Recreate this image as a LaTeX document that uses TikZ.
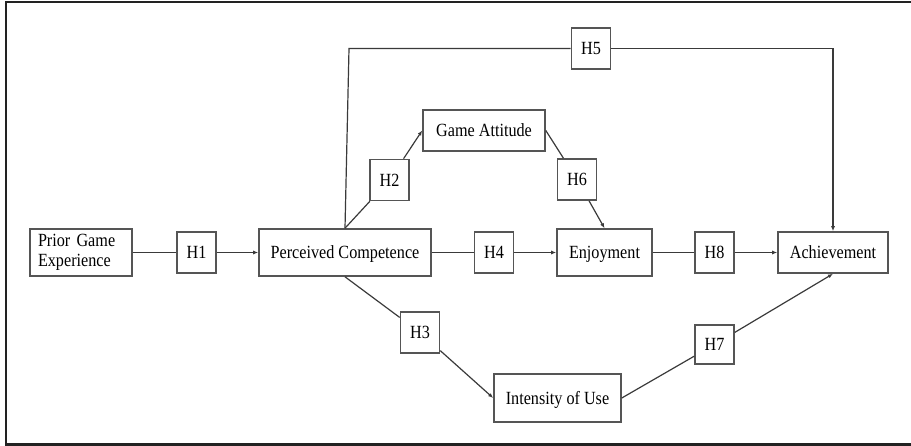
\documentclass[tikz,border=0pt]{standalone}
\usepackage{fontspec}
\setmainfont{Liberation Serif}[FakeStretch=0.87]
\usetikzlibrary{arrows.meta}
\definecolor{boxc}{HTML}{555555}
\definecolor{linec}{HTML}{3A3A3A}
\definecolor{framec}{HTML}{222222}
\tikzset{
  every node/.style={font=\fontsize{18.6}{20}\selectfont},
  bx/.style={draw=boxc, line width=1.6pt, fill=white, inner sep=0pt, align=center},
  one/.style={bx, text height=12.4pt, text depth=0pt},
  hyp/.style={one, minimum width=39pt, minimum height=41pt},
  conn/.style={draw=linec, line width=1.2pt},
  arr/.style={conn, -{Latex[length=5pt,width=4pt]}}
}
\begin{document}
\begin{tikzpicture}[x=1pt,y=-1pt]
\useasboundingbox (0,0) rectangle (911,446);
\draw[framec, line width=2pt] (911,2.5) -- (6,2.5) -- (6,444.5) -- (911,444.5);

\node[bx, minimum width=102pt, minimum height=47pt, text width=86pt, align=left] (pge) at (81,252.5) {Prior Game\\Experience};
\node[hyp] (h1) at (196.5,252.5) {H1};
\node[one, minimum width=172pt, minimum height=47pt] (pc) at (345,252.5) {Perceived Competence};
\node[hyp] (h2) at (389.5,180) {H2};
\node[one, minimum width=122pt, minimum height=41pt] (ga) at (484,130.5) {Game Attitude};
\node[hyp] (h5) at (591,48.5) {H5};
\node[hyp] (h6) at (577,179.5) {H6};
\node[hyp] (h3) at (420,332.5) {H3};
\node[hyp] (h4) at (494,252.5) {H4};
\node[one, minimum width=95pt, minimum height=47pt] (enj) at (604.5,252.5) {Enjoyment};
\node[hyp] (h8) at (714.5,252.5) {H8};
\node[one, minimum width=110pt, minimum height=41pt] (ach) at (833,252.5) {Achievement};
\node[hyp, minimum height=39pt] (h7) at (714.5,344.5) {H7};
\node[one, minimum width=127pt, minimum height=48pt] (iou) at (557.5,398) {Intensity of Use};

\coordinate (c5) at (349,48.5);

\draw[conn] (pge.east) -- (h1.west);
\draw[arr] (h1.east) -- (pc.west);
\draw[conn] (pc.east) -- (h4.west);
\draw[arr] (h4.east) -- (enj.west);
\draw[conn] (enj.east) -- (h8.west);
\draw[arr] (h8.east) -- (ach.west);

\draw[conn] (pc.north) -- (c5) -- (h5.west);
\draw[arr] (h5.east) -| (ach.north);

\draw[conn] (pc.north) -- (h2);
\draw[arr] (h2) -- (ga.west);

\draw[conn] (ga.east) -- (h6);
\draw[arr] (h6) -- (enj.north);

\draw[conn] (pc.south) -- (h3);
\draw[arr] (h3) -- (iou.west);

\draw[conn] (iou.east) -- (h7);
\draw[arr] (h7) -- (ach.south);
\end{tikzpicture}
\end{document}
